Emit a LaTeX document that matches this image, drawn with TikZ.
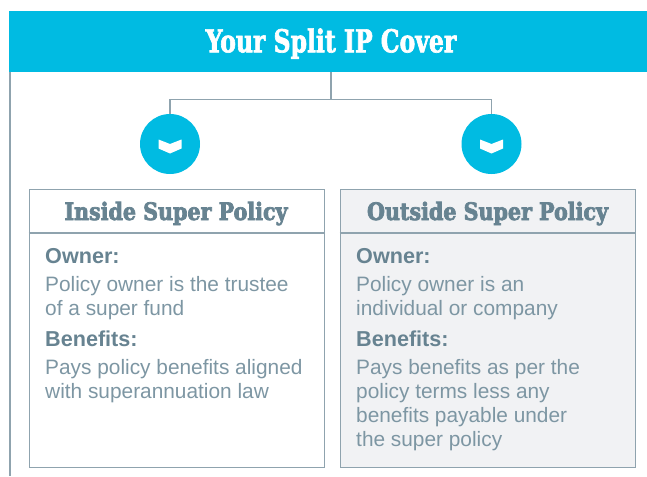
\documentclass[tikz,border=0pt]{standalone}
\usepackage{fontspec}
\setmainfont{Liberation Sans}
\newfontfamily\slabfont[FakeStretch=0.83,FakeBold=2]{DejaVu Serif Condensed}
\newfontfamily\slabwide[FakeStretch=0.955,FakeBold=3]{DejaVu Serif Condensed}
\usepackage{tikz}
\usetikzlibrary{positioning}
\definecolor{covercyan}{HTML}{00BBE2}
\definecolor{coverline}{HTML}{8FA3AE}
\definecolor{coverhead}{HTML}{678391}
\definecolor{covertext}{HTML}{7D96A3}
\definecolor{coverfill}{HTML}{F1F2F4}
\tikzset{
    banner/.style={fill=covercyan,text=white,minimum width=638pt,minimum height=61pt,inner sep=0pt,
                   text height=21.6pt,text depth=0pt,
                   font=\slabfont\bfseries\fontsize{31.5}{31.5}\selectfont},
    policy/.style={draw=coverline,line width=1.2pt,minimum width=295.5pt,minimum height=278pt,
                   inner sep=0pt,anchor=north west},
    policyhead/.style={text=coverhead,inner sep=0pt,anchor=base,
                   font=\slabwide\bfseries\fontsize{24}{24}\selectfont},
    dot/.style={circle,fill=covercyan,minimum size=60pt,inner sep=0pt},
    label/.style={text=coverhead,inner sep=0pt,anchor=base west,font=\bfseries\fontsize{21.6}{21.6}\selectfont},
    body/.style={text=covertext,inner sep=0pt,align=left,
                   font=\fontsize{20.85}{24}\selectfont},
    rule/.style={draw=coverline,line width=1.2pt}
}
\begin{document}
\begin{tikzpicture}[x=1pt,y=-1pt,node distance=13pt]

    \useasboundingbox (0,0) rectangle (647,476);

    \coordinate (frametop) at (10,72);
    \coordinate (framebot) at (10,476);
    \coordinate (fork)     at (331,99.5);
    \draw[rule] (frametop) -- (framebot);

    \node[banner]  (title) at (328,41.5) {\hspace*{6pt}Your Split IP Cover};
    \node[dot]     (dotl)  at (170,144)  {};
    \node[dot]     (dotr)  at (491.5,144) {};

    \node[policy]             (inside)  at (28.5,189)  {};
    \node[policy,fill=coverfill] (outside) at (339.5,189) {};

    % the rules under the two headings
    \coordinate (insidel)  at (28.5,233);
    \coordinate (insider)  at (324,233);
    \coordinate (outsidel) at (339.5,233);
    \coordinate (outsider) at (635,233);
    \draw[rule] (insidel) -- (insider);
    \draw[rule] (outsidel) -- (outsider);

    % fork from the banner to the dots
    \draw[rule] (title.south -| fork) -- (fork);
    \draw[rule] (dotl.north) |- (fork) -| (dotr.north);

    % chevrons
    \foreach \dotname in {dotl,dotr}
        \fill[white,shift={(\dotname.center)}] (-11.5,-4.5) -- (0,0) -- (11.5,-4.5)
            -- (11.5,4.5) -- (0,9.5) -- (-11.5,4.5) -- cycle;

    \node[policyhead] (insidehead)  at (176,220)   {Inside Super Policy};
    \node[policyhead] (outsidehead) at (487.5,220) {Outside Super Policy};

    \node[label] (ownerl) at (45,263)            {Owner:};
    \node[body]  (textl)  [below=of ownerl.base west,anchor=north west]
        {Policy owner is the trustee\\of a super fund};
    \node[label] (benl)   at (45,346)            {Benefits:};
    \node[body]  (paysl)  [below=of benl.base west,anchor=north west]
        {Pays policy benefits aligned\\with superannuation law};

    \node[label] (ownerr) at (356,263)           {Owner:};
    \node[body]  (textr)  [below=of ownerr.base west,anchor=north west]
        {Policy owner is an\\individual or company};
    \node[label] (benr)   at (356,346)           {Benefits:};
    \node[body]  (paysr)  [below=of benr.base west,anchor=north west]
        {Pays benefits as per the\\policy terms less any\\benefits payable under\\the super policy};

\end{tikzpicture}
\end{document}
